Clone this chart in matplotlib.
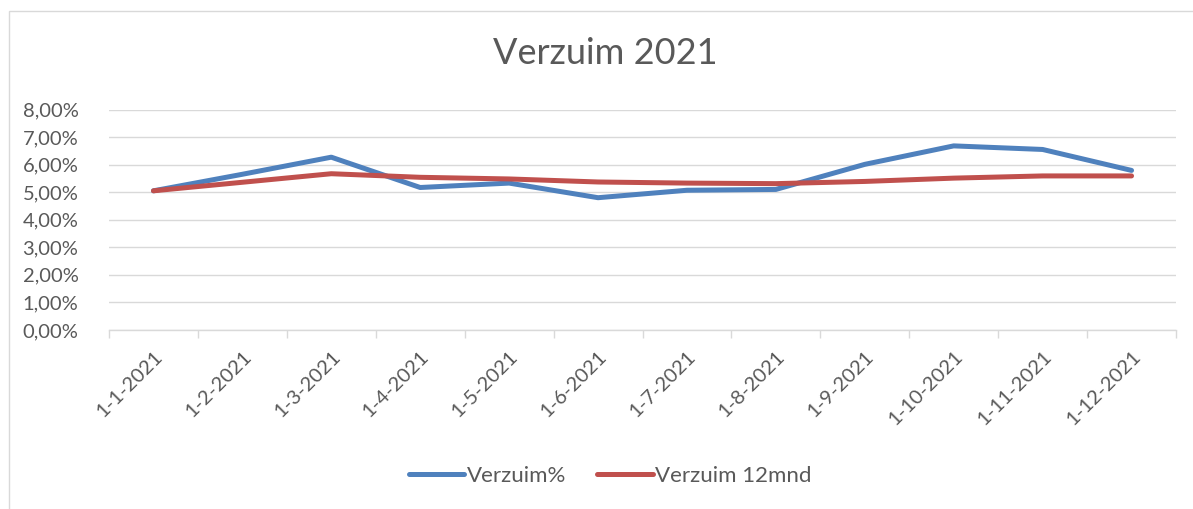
import matplotlib
matplotlib.use("Agg")
import matplotlib.pyplot as plt
from matplotlib.patches import Rectangle
from matplotlib.ticker import FixedLocator, FuncFormatter

# data
months = ["1-1-2021", "1-2-2021", "1-3-2021", "1-4-2021", "1-5-2021", "1-6-2021",
          "1-7-2021", "1-8-2021", "1-9-2021", "1-10-2021", "1-11-2021", "1-12-2021"]
verzuim_pct = [5.05, 5.65, 6.27, 5.17, 5.33, 4.80, 5.07, 5.10, 6.01, 6.68, 6.55, 5.79]
verzuim_12mnd = [5.05, 5.36, 5.67, 5.54, 5.48, 5.37, 5.33, 5.31, 5.39, 5.51, 5.59, 5.59]
y_ticks = [0, 1, 2, 3, 4, 5, 6, 7, 8]

W, H = 1193, 509
TEXT = "#595959"
GRID = "#d9d9d9"
plt.rcParams["font.family"] = ["Lato", "DejaVu Sans"]

fig = plt.figure(figsize=(W / 100, H / 100), dpi=100)
fig.patches.append(Rectangle((9 / W, -0.05), 1.2, (H - 11) / H + 0.05,
                             transform=fig.transFigure, fill=False,
                             edgecolor=GRID, linewidth=1.0))

left, right, top, bottom = 109, 1176, 109.5, 330
ax = fig.add_axes([left / W, (H - bottom) / H, (right - left) / W, (bottom - top) / H])

x = list(range(len(months)))
ax.plot(x, verzuim_pct, color="#4f81bd", linewidth=3.6, solid_capstyle="round",
        solid_joinstyle="round", label="Verzuim%", zorder=3)
ax.plot(x, verzuim_12mnd, color="#c0504d", linewidth=3.6, solid_capstyle="round",
        solid_joinstyle="round", label="Verzuim 12mnd", zorder=3)

ax.set_xlim(-0.5, len(months) - 0.5)
ax.set_ylim(0, 8)
ax.yaxis.set_major_locator(FixedLocator(y_ticks))
ax.yaxis.set_major_formatter(FuncFormatter(lambda v, p: f"{v:.2f}%".replace(".", ",")))
ax.grid(axis="y", color=GRID, linewidth=1.0)
ax.set_axisbelow(True)

# category boundaries get tick marks, centers get labels
ax.xaxis.set_major_locator(FixedLocator([i - 0.5 for i in range(len(months) + 1)]))
ax.xaxis.set_major_formatter(FuncFormatter(lambda v, p: ""))
ax.xaxis.set_minor_locator(FixedLocator(x))
ax.set_xticklabels(months, minor=True, rotation=45, ha="right", va="top",
                   rotation_mode="anchor", fontsize=14.5, color=TEXT)
ax.tick_params(axis="x", which="major", length=6, width=1.0, color=GRID, direction="out")
ax.tick_params(axis="x", which="minor", length=0, pad=13)
ax.tick_params(axis="y", length=0, pad=22, labelsize=14.5, labelcolor=TEXT)

for s in ["top", "right", "left"]:
    ax.spines[s].set_visible(False)
ax.spines["bottom"].set_color(GRID)
ax.spines["bottom"].set_linewidth(1.0)

fig.text(605 / W, (H - 54) / H, "Verzuim 2021", ha="center", va="center",
         fontsize=26, color=TEXT)

leg = fig.legend(loc="center", bbox_to_anchor=(610 / W, (H - 476) / H), ncol=2,
                 frameon=False, fontsize=16, handlelength=2.5, handletextpad=0.1,
                 columnspacing=1.4, labelcolor=TEXT)

fig.savefig("out.png", dpi=100)
